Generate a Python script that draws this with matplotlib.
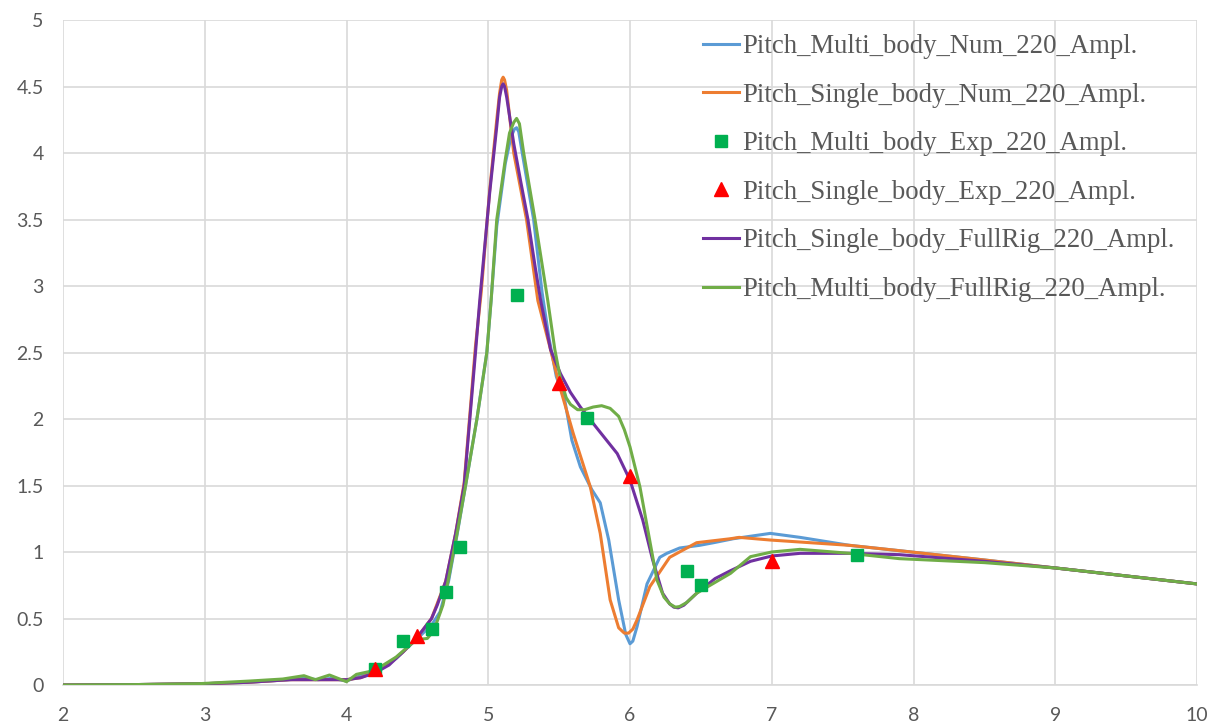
import matplotlib.pyplot as plt

# Pitch_Multi_body_Num_220_Ampl.
multi_num_x = [2.0, 2.5, 3.0, 3.3, 3.6, 3.7, 3.8, 3.9, 4.0, 4.1, 4.2, 4.35, 4.5, 4.6, 4.66, 4.72, 4.78,
               4.84, 4.92, 4.99, 5.02, 5.06, 5.12, 5.16, 5.185, 5.20, 5.215, 5.24, 5.28, 5.32, 5.38, 5.43,
               5.48, 5.54, 5.59, 5.65, 5.73, 5.79, 5.85, 5.92, 5.97, 6.0, 6.02, 6.05, 6.12, 6.21, 6.26,
               6.35, 6.49, 6.59, 6.73, 6.99, 7.2, 7.55, 7.9, 8.5, 9.0, 9.5, 10.0]
multi_num_y = [0.0, 0.003, 0.01, 0.02, 0.04, 0.05, 0.04, 0.05, 0.03, 0.07, 0.10, 0.20, 0.35, 0.45, 0.55,
               0.78, 1.13, 1.50, 2.00, 2.50, 2.89, 3.45, 3.92, 4.12, 4.18, 4.19, 4.16, 4.00, 3.75, 3.50,
               2.95, 2.60, 2.32, 2.14, 1.84, 1.64, 1.47, 1.37, 1.09, 0.64, 0.38, 0.31, 0.33, 0.44, 0.76,
               0.96, 0.99, 1.03, 1.05, 1.07, 1.10, 1.14, 1.11, 1.05, 1.01, 0.94, 0.88, 0.82, 0.76]

# Pitch_Single_body_Num_220_Ampl.
single_num_x = [2.0, 2.5, 3.0, 3.3, 3.6, 3.9, 4.0, 4.1, 4.2, 4.3, 4.4, 4.5, 4.6, 4.7, 4.77, 4.83, 4.87,
                4.91, 4.95, 5.01, 5.06, 5.08, 5.095, 5.105, 5.115, 5.13, 5.18, 5.27, 5.35, 5.44, 5.50,
                5.60, 5.72, 5.79, 5.86, 5.92, 5.96, 5.99, 6.02, 6.05, 6.14, 6.28, 6.47, 6.71, 6.77, 6.99,
                7.55, 7.9, 8.5, 9.0, 9.5, 10.0]
single_num_y = [0.0, 0.003, 0.01, 0.02, 0.04, 0.04, 0.04, 0.055, 0.10, 0.16, 0.25, 0.36, 0.50, 0.78,
                1.14, 1.52, 2.03, 2.55, 2.95, 3.72, 4.25, 4.45, 4.55, 4.57, 4.55, 4.47, 4.00, 3.50, 2.89,
                2.52, 2.26, 1.89, 1.49, 1.14, 0.64, 0.43, 0.39, 0.39, 0.42, 0.49, 0.74, 0.96, 1.07, 1.10,
                1.11, 1.09, 1.05, 1.01, 0.94, 0.88, 0.82, 0.76]

# Pitch_Multi_body_Exp_220_Ampl.
multi_exp_x = [4.2, 4.4, 4.6, 4.7, 4.8, 5.2, 5.7, 6.4, 6.5, 7.6]
multi_exp_y = [0.12, 0.33, 0.42, 0.70, 1.04, 2.93, 2.01, 0.86, 0.75, 0.98]

# Pitch_Single_body_Exp_220_Ampl.
single_exp_x = [4.2, 4.5, 5.5, 6.0, 7.0]
single_exp_y = [0.12, 0.37, 2.27, 1.57, 0.93]

# Pitch_Single_body_FullRig_220_Ampl.
single_rig_x = [2.0, 2.5, 3.0, 3.3, 3.6, 3.9, 4.0, 4.1, 4.2, 4.3, 4.4, 4.5, 4.6, 4.64, 4.7, 4.77, 4.83,
                4.87, 4.91, 4.94, 5.01, 5.06, 5.08, 5.095, 5.105, 5.115, 5.13, 5.18, 5.23, 5.28, 5.33,
                5.37, 5.44, 5.51, 5.58, 5.65, 5.76, 5.91, 6.0, 6.09, 6.16, 6.23, 6.28, 6.31, 6.34, 6.38,
                6.47, 6.6, 6.71, 6.85, 7.0, 7.2, 7.55, 7.9, 8.5, 9.0, 9.5, 10.0]
single_rig_y = [0.0, 0.003, 0.01, 0.02, 0.04, 0.04, 0.04, 0.055, 0.09, 0.15, 0.25, 0.36, 0.50, 0.60,
                0.78, 1.14, 1.50, 2.00, 2.50, 2.89, 3.70, 4.20, 4.42, 4.50, 4.52, 4.50, 4.42, 4.07, 3.78,
                3.50, 3.15, 2.89, 2.52, 2.34, 2.20, 2.09, 1.94, 1.74, 1.54, 1.24, 0.94, 0.69, 0.61, 0.585,
                0.58, 0.60, 0.69, 0.80, 0.86, 0.93, 0.97, 0.99, 0.99, 0.98, 0.93, 0.88, 0.82, 0.76]

# Pitch_Multi_body_FullRig_220_Ampl.
multi_rig_x = [2.0, 2.5, 2.96, 3.32, 3.55, 3.70, 3.78, 3.88, 4.0, 4.07, 4.2, 4.35, 4.49, 4.57, 4.61, 4.64,
               4.68, 4.72, 4.78, 4.84, 4.92, 4.99, 5.02, 5.06, 5.12, 5.15, 5.18, 5.20, 5.22, 5.25, 5.33,
               5.42, 5.47, 5.51, 5.55, 5.58, 5.63, 5.68, 5.74, 5.80, 5.86, 5.92, 5.96, 6.0, 6.07, 6.13,
               6.19, 6.24, 6.28, 6.32, 6.35, 6.40, 6.47, 6.63, 6.71, 6.85, 7.0, 7.2, 7.55, 7.9, 8.5,
               9.0, 9.5, 10.0]
multi_rig_y = [0.0, 0.003, 0.01, 0.03, 0.045, 0.07, 0.04, 0.075, 0.025, 0.08, 0.11, 0.21, 0.34, 0.35,
               0.40, 0.48, 0.60, 0.80, 1.14, 1.50, 2.00, 2.50, 2.89, 3.50, 3.95, 4.15, 4.23, 4.26, 4.22,
               4.00, 3.50, 2.89, 2.52, 2.30, 2.16, 2.11, 2.07, 2.07, 2.09, 2.10, 2.08, 2.02, 1.92, 1.79,
               1.49, 1.14, 0.79, 0.66, 0.61, 0.585, 0.59, 0.62, 0.69, 0.79, 0.84, 0.965, 1.00, 1.02,
               0.99, 0.95, 0.92, 0.88, 0.82, 0.76]

fig = plt.figure(figsize=(12.15, 7.27), dpi=100)
ax = fig.add_axes([63 / 1215, 42 / 727, 1134 / 1215, 665 / 727])

lw = 2.2
ax.plot(multi_num_x, multi_num_y, color='#5B9BD5', lw=lw, label='Pitch_Multi_body_Num_220_Ampl.', zorder=3)
ax.plot(single_num_x, single_num_y, color='#ED7D31', lw=lw, label='Pitch_Single_body_Num_220_Ampl.', zorder=3)
ax.plot(multi_exp_x, multi_exp_y, ls='none', marker='s', ms=8.5, color='#00B050',
        label='Pitch_Multi_body_Exp_220_Ampl.', zorder=6)
ax.plot(single_exp_x, single_exp_y, ls='none', marker='^', ms=10, color='#FF0000',
        label='Pitch_Single_body_Exp_220_Ampl.', zorder=7)
ax.plot(single_rig_x, single_rig_y, color='#7030A0', lw=lw, label='Pitch_Single_body_FullRig_220_Ampl.', zorder=4)
ax.plot(multi_rig_x, multi_rig_y, color='#70AD47', lw=lw, label='Pitch_Multi_body_FullRig_220_Ampl.', zorder=5)

ax.set_xlim(2, 10)
ax.set_ylim(0, 5)
ax.set_xticks(range(2, 11))
ax.set_yticks([0, 0.5, 1, 1.5, 2, 2.5, 3, 3.5, 4, 4.5, 5])
ax.set_yticklabels(['0', '0.5', '1', '1.5', '2', '2.5', '3', '3.5', '4', '4.5', '5'])
ax.grid(True, color='#D9D9D9', lw=1.2)
ax.set_axisbelow(True)
for s in ['top', 'right', 'left']:
    ax.spines[s].set_visible(False)
ax.spines['bottom'].set_color('#D9D9D9')
ax.spines['bottom'].set_linewidth(1.2)
ax.tick_params(length=0, labelsize=14, labelcolor='#595959')
ax.tick_params(axis='x', pad=16)
ax.tick_params(axis='y', pad=14)
for lab in ax.get_xticklabels() + ax.get_yticklabels():
    lab.set_family('Lato')

leg = ax.legend(loc='upper left', bbox_to_anchor=(703 / 1215, 1 - 34 / 727),
                bbox_transform=fig.transFigure, frameon=False,
                prop={'family': 'Liberation Serif', 'size': 19.3},
                handlelength=1.35, handletextpad=0.12, labelspacing=0.88, borderpad=0,
                borderaxespad=0)
for t in leg.get_texts():
    t.set_color('#595959')

fig.savefig('out.png', dpi=100)
